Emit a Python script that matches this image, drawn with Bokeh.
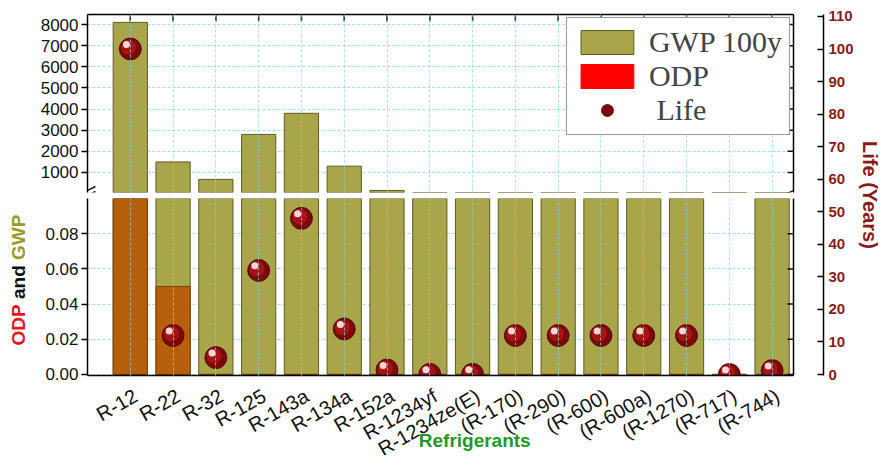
import numpy as np
from bokeh.plotting import figure
from bokeh.models import (Range1d, FixedTicker, NumeralTickFormatter, ColumnDataSource,
                          Legend, LegendItem, Arrow, LinearAxis)
from bokeh.layouts import row, column
from bokeh.transform import dodge
from bokeh.embed import file_html
from bokeh.resources import INLINE

# ---------------- data ----------------
refrigerants = ["R-12", "R-22", "R-32", "R-125", "R-143a", "R-134a", "R-152a", "R-1234yf",
                "R-1234ze(E)", "(R-170)", "(R-290)", "(R-600)", "(R-600a)", "(R-1270)",
                "(R-717)", "(R-744)"]
gwp_100y = [8100, 1500, 675, 2800, 3800, 1300, 150, 4, 6, 6, 3, 4, 3, 2, 0, 1]
odp = [1.0, 0.05, 0, 0, 0, 0, 0, 0, 0, 0, 0, 0, 0, 0, 0, 0]
life_years = [100, 12, 5.2, 32, 48, 14, 1.4, 0.03, 0.05, 12, 12, 12, 12, 12, 0.02, 1.2]
gwp_ticks = [1000, 2000, 3000, 4000, 5000, 6000, 7000, 8000]
odp_ticks = [0.0, 0.02, 0.04, 0.06, 0.08]
life_ticks = [0, 10, 20, 30, 40, 50, 60, 70, 80, 90, 100, 110]

xs = list(range(1, len(refrigerants) + 1))
src = ColumnDataSource(dict(x=xs, gwp=gwp_100y, odp=odp, life=life_years))

OLIVE = "#a9a54b"
OLIVE_LINE = "#5e5a2a"
ODP_FILL = "#b65f0c"
DARKRED = "#8b1a1a"
GRID = "#86d8e6"
FONT = "Liberation Sans"

# layout (pixels)
LEFT_STRIP = 30
BORDER_L = 57
FRAME_W = 706
BORDER_R = 10
BOT_H = 177
BOT_PAD = 9
STRIP_H = 71
X0, X1 = 0, 16.5
GWP_LO, GWP_HI = 54, 8473
ODP_LO, ODP_HI = -0.0006, 0.1
ODP_PX = (ODP_HI - ODP_LO) / BOT_H


def style_common(p):
    p.outline_line_color = None
    p.background_fill_color = "white"
    p.border_fill_color = "white"
    p.xgrid.ticker = FixedTicker(ticks=xs)
    p.xgrid.grid_line_color = GRID
    p.xgrid.grid_line_dash = "3 2"
    p.xgrid.grid_line_alpha = 0.7
    p.xgrid.level = "overlay"
    p.ygrid.grid_line_color = GRID
    p.ygrid.grid_line_dash = "3 2"
    p.ygrid.grid_line_alpha = 0.8
    ax = p.left[0]
    ax.axis_line_width = 1.5
    ax.major_tick_line_width = 1.5
    ax.minor_tick_line_color = None
    ax.major_label_text_font = FONT
    ax.major_label_text_font_size = "17px"
    ax.major_label_text_color = "#111111"
    ax.major_tick_out = 6
    ax.major_tick_in = 0
    ax.major_label_standoff = 3
    xa = p.above[0] if p.above else p.below[0]
    xa.ticker = FixedTicker(ticks=[])
    xa.axis_line_width = 1.5
    xa.major_tick_out = 0
    xa.major_tick_in = 0
    xa.major_label_standoff = 0
    xa.major_tick_line_color = None
    xa.minor_tick_line_color = None
    # right spine (line only)
    p.add_layout(LinearAxis(ticker=FixedTicker(ticks=[]), axis_line_width=1.5,
                            major_tick_out=0, major_tick_in=0, major_label_standoff=0,
                            major_tick_line_color=None, minor_tick_line_color=None), "right")


def add_balls(p, rng):
    base = p.scatter(x="x", y="life", source=src, y_range_name=rng, size=22,
                     fill_color="#7d0a0a", line_color="#4a0000", line_width=0.8)
    p.scatter(x=dodge("x", -0.04), y=dodge("life", 0.5), source=src, y_range_name=rng,
              size=15, fill_color="#a51515", line_color=None)
    p.scatter(x=dodge("x", -0.09), y=dodge("life", 1.4), source=src, y_range_name=rng,
              size=7, fill_color="#f6d6d6", line_color=None)
    return base


def inner_ticks_right(p, ticks):
    # tick marks on the right spine pointing inwards (outer half of each dash is clipped)
    p.scatter(x=[X1] * len(ticks), y=ticks, marker="dash", size=12,
              line_color="#111111", line_width=1.5)


# ---------------- left title strip ----------------
ylab = figure(frame_width=LEFT_STRIP, frame_height=455, min_border=0,
              x_range=Range1d(0, LEFT_STRIP), y_range=Range1d(0, 455),
              x_axis_location=None, y_axis_location=None,
              output_backend="svg", toolbar_location=None)
ylab.outline_line_color = None
ylab.grid.visible = False
ylab.text(x=[18, 18, 18], y=[124, 170.5, 209.5], text=["ODP", "and", "GWP"],
          angle=np.pi / 2, text_align="left", text_baseline="middle",
          text_font={"value": FONT}, text_font_style="bold", text_font_size="19px",
          text_color=["#e8141e", "#111111", "#9a9a1e"])

# ---------------- top section (GWP) ----------------
top = figure(frame_width=FRAME_W, frame_height=178, min_border_left=BORDER_L,
             min_border_right=BORDER_R, min_border_top=14, min_border_bottom=6,
             x_range=Range1d(X0, X1), y_range=Range1d(GWP_LO, GWP_HI), x_axis_location="above",
             output_backend="svg", toolbar_location=None)
top.extra_y_ranges = {"life": Range1d(55.9, 110.6)}
style_common(top)
top.left[0].ticker = FixedTicker(ticks=gwp_ticks)
top.ygrid.ticker = FixedTicker(ticks=gwp_ticks)

gwp_top = top.vbar(x="x", top="gwp", bottom=0, width=0.8, source=src,
                   fill_color=OLIVE, line_color=OLIVE_LINE, line_width=1)
# ODP values lie far below this section's range: only its legend swatch is needed here
odp_top = top.vbar(x="x", top="odp", bottom=0, width=0.8, source=src,
                   fill_color="#ff0000", line_color="#ff0000", visible=False)
ball_top = add_balls(top, "life")
# inward ticks on the top spine and right spine
top.scatter(x=xs, y=[GWP_HI] * len(xs), marker="dash", angle=np.pi / 2, size=14,
            line_color="#111111", line_width=1.5)
inner_ticks_right(top, gwp_ticks)

legend = Legend(items=[LegendItem(label="GWP 100y", renderers=[gwp_top]),
                       LegendItem(label="ODP", renderers=[odp_top]),
                       LegendItem(label=" Life", renderers=[ball_top])],
                location="top_right")
legend.label_text_font = "Liberation Serif"
legend.label_text_font_size = "30px"
legend.glyph_width = 66
legend.glyph_height = 30
legend.label_height = 30
legend.spacing = 0
legend.padding = 7
legend.margin = 3
legend.label_standoff = 9
legend.border_line_color = "#333333"
legend.border_line_width = 1
legend.background_fill_alpha = 1.0
legend.inactive_fill_alpha = 0.0
top.add_layout(legend)

# axis-break marks (canvas pixels of the top section)
for bx in [BORDER_L, BORDER_L + FRAME_W]:
    for yc in [190, 195]:
        top.add_layout(Arrow(x_start=bx - 8, y_start=yc + 4, x_end=bx + 8, y_end=yc - 4,
                             start_units="canvas", end_units="canvas", end=None,
                             line_color="#111111", line_width=1.5))

# ---------------- bottom section (ODP) ----------------
bot = figure(frame_width=FRAME_W, frame_height=BOT_H, min_border_left=BORDER_L,
             min_border_right=BORDER_R, min_border_top=0, min_border_bottom=BOT_PAD,
             x_range=top.x_range, y_range=Range1d(ODP_LO, ODP_HI),
             output_backend="svg", toolbar_location=None)
bot.extra_y_ranges = {"life": Range1d(-0.3, 54.1)}
style_common(bot)
bot.left[0].ticker = FixedTicker(ticks=odp_ticks)
bot.left[0].formatter = NumeralTickFormatter(format="0.00")
bot.ygrid.ticker = FixedTicker(ticks=odp_ticks)

bot.vbar(x="x", top="gwp", bottom=0, width=0.8, source=src,
         fill_color=OLIVE, line_color=OLIVE_LINE, line_width=1)
bot.vbar(x="x", top="odp", bottom=0, width=0.8, source=src,
         fill_color=ODP_FILL, line_color="#7a3f0a", line_width=1)
add_balls(bot, "life")
inner_ticks_right(bot, odp_ticks)
# outward category ticks below the bottom spine
bot.add_layout(Arrow(x_start="x", x_end="x", y_start=ODP_LO, y_end=ODP_LO - 6 * ODP_PX,
                     source=src, end=None, line_color="#111111", line_width=1.5))

# ---------------- category labels strip ----------------
strip = figure(frame_width=FRAME_W, frame_height=STRIP_H, min_border_left=BORDER_L,
               min_border_right=BORDER_R, min_border_top=0, min_border_bottom=0,
               x_range=top.x_range, y_range=Range1d(0, STRIP_H),
               x_axis_location=None, y_axis_location=None,
               output_backend="svg", toolbar_location=None)
strip.outline_line_color = None
strip.grid.visible = False
strip.text(x=xs, y=[STRIP_H] * len(xs), text=refrigerants, angle=0.52,
           text_align="right", text_baseline="top", text_font={"value": FONT},
           text_font_size="20px", text_color="#111111")
strip.text(x=[9.05], y=[15], text=["Refrigerants"], text_align="center",
           text_baseline="middle", text_font={"value": FONT}, text_font_style="bold",
           text_font_size="19px", text_color="#1e9a28")

# ---------------- life axis ----------------
lf = figure(frame_width=2, frame_height=361, min_border_left=18, min_border_right=57,
            min_border_top=14, min_border_bottom=80,
            x_range=Range1d(0, 1), y_range=Range1d(-0.3, 110.6),
            x_axis_location=None, y_axis_location="right",
            output_backend="svg", toolbar_location=None)
lf.outline_line_color = None
lf.grid.visible = False
lf.yaxis.ticker = FixedTicker(ticks=life_ticks)
lf.yaxis.major_tick_in = 6
lf.yaxis.major_tick_out = 0
lf.yaxis.minor_tick_line_color = None
lf.yaxis.axis_line_width = 1.5
lf.yaxis.major_tick_line_width = 1.5
lf.yaxis.major_label_text_font = FONT
lf.yaxis.major_label_text_font_style = "bold"
lf.yaxis.major_label_text_font_size = "15px"
lf.yaxis.major_label_text_color = DARKRED
lf.yaxis.major_label_standoff = 5
lf.yaxis.axis_label = "Life (Years)"
lf.yaxis.axis_label_text_font = FONT
lf.yaxis.axis_label_text_font_style = "bold"
lf.yaxis.axis_label_text_font_size = "20px"
lf.yaxis.axis_label_text_color = DARKRED
lf.yaxis.axis_label_standoff = 2

layout = row(ylab, column(top, bot, strip), lf)
open("out.html", "w").write(file_html(layout, INLINE))
